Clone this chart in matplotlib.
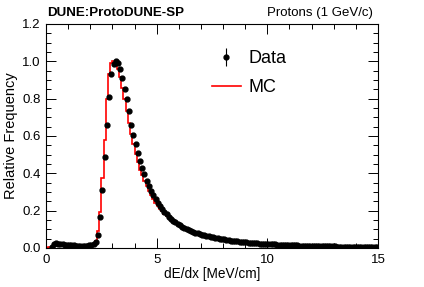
import numpy as np
import matplotlib
matplotlib.use("Agg")
import matplotlib.pyplot as plt
from matplotlib.ticker import MultipleLocator

plt.rcParams['font.family'] = ['Liberation Sans', 'DejaVu Sans']

# bin edges 0..15, width 0.1
bin_lo, bin_hi, bin_w = 0.0, 15.0, 0.1

data_vals = [
    0.000, 0.000, 0.004, 0.020, 0.025, 0.024, 0.022, 0.020, 0.018, 0.016,
    0.015, 0.014, 0.014, 0.013, 0.013, 0.013, 0.013, 0.013, 0.013, 0.014,
    0.016, 0.022, 0.034, 0.071, 0.168, 0.310, 0.486, 0.657, 0.807, 0.930,
    0.985, 1.000, 0.990, 0.960, 0.910, 0.853, 0.800, 0.734, 0.659, 0.605,
    0.555, 0.507, 0.465, 0.430, 0.395, 0.360, 0.332, 0.307, 0.284, 0.262,
    0.243, 0.225, 0.208, 0.193, 0.180, 0.168, 0.157, 0.147, 0.138, 0.130,
    0.122, 0.115, 0.109, 0.103, 0.097, 0.092, 0.087, 0.083, 0.079, 0.075,
    0.072, 0.069, 0.066, 0.063, 0.060, 0.057, 0.055, 0.052, 0.050, 0.048,
    0.046, 0.044, 0.042, 0.040, 0.038, 0.037, 0.035, 0.034, 0.032, 0.031,
    0.030, 0.029, 0.028, 0.027, 0.026, 0.025, 0.024, 0.023, 0.022, 0.022,
    0.021, 0.020, 0.020, 0.019, 0.018, 0.018, 0.017, 0.017, 0.016, 0.016,
    0.015, 0.015, 0.014, 0.014, 0.013, 0.013, 0.013, 0.012, 0.012, 0.012,
    0.011, 0.011, 0.011, 0.010, 0.010, 0.010, 0.010, 0.009, 0.009, 0.009,
    0.009, 0.008, 0.008, 0.008, 0.008, 0.008, 0.007, 0.007, 0.007, 0.007,
    0.007, 0.007, 0.006, 0.006, 0.006, 0.006, 0.006, 0.006, 0.005, 0.005,
]

mc_vals = [
    0.002, 0.005, 0.008, 0.015, 0.020, 0.020, 0.019, 0.018, 0.017, 0.016,
    0.015, 0.014, 0.014, 0.013, 0.013, 0.013, 0.013, 0.013, 0.013, 0.013,
    0.014, 0.020, 0.035, 0.090, 0.195, 0.373, 0.580, 0.800, 0.930, 0.990,
    1.000, 0.985, 0.960, 0.915, 0.855, 0.800, 0.735, 0.670, 0.610, 0.555,
    0.505, 0.460, 0.420, 0.390, 0.360, 0.330, 0.305, 0.282, 0.262, 0.243,
    0.226, 0.210, 0.196, 0.183, 0.171, 0.160, 0.150, 0.141, 0.133, 0.125,
    0.118, 0.112, 0.106, 0.100, 0.095, 0.090, 0.086, 0.082, 0.078, 0.074,
    0.071, 0.068, 0.065, 0.062, 0.059, 0.056, 0.054, 0.051, 0.049, 0.047,
    0.045, 0.043, 0.041, 0.039, 0.037, 0.036, 0.034, 0.033, 0.031, 0.030,
    0.029, 0.028, 0.027, 0.026, 0.025, 0.024, 0.023, 0.022, 0.021, 0.021,
    0.020, 0.019, 0.019, 0.018, 0.017, 0.017, 0.016, 0.016, 0.015, 0.015,
    0.014, 0.014, 0.013, 0.013, 0.012, 0.012, 0.012, 0.011, 0.011, 0.011,
    0.010, 0.010, 0.010, 0.009, 0.009, 0.009, 0.009, 0.008, 0.008, 0.008,
    0.008, 0.007, 0.007, 0.007, 0.007, 0.007, 0.006, 0.006, 0.006, 0.006,
    0.006, 0.006, 0.005, 0.005, 0.005, 0.005, 0.005, 0.005, 0.004, 0.004,
]

title_left = "DUNE:ProtoDUNE-SP"
title_right = "Protons (1 GeV/c)"
xlabel = "dE/dx [MeV/cm]"
ylabel = "Relative Frequency"

edges = np.arange(len(data_vals) + 1) * bin_w + bin_lo
centers = 0.5 * (edges[:-1] + edges[1:])
data = np.array(data_vals)
mc = np.array(mc_vals)

W, H = 424, 287
fig = plt.figure(figsize=(W / 100, H / 100), dpi=100)
ax = fig.add_axes([46 / W, 1 - 248 / H, (378 - 46) / W, (248 - 24) / H])

ax.stairs(mc, edges, color='red', lw=1.2, label='MC', zorder=2)
mask = data > 0
ax.errorbar(centers[mask], data[mask], yerr=np.sqrt(data[mask]) * 0.01,
            fmt='o', color='black', ms=3.5, lw=0.8, capsize=0, label='Data', zorder=3)

ax.set_xlim(bin_lo, bin_hi)
ax.set_ylim(0, 1.2)
ax.xaxis.set_major_locator(MultipleLocator(5))
ax.xaxis.set_minor_locator(MultipleLocator(1))
ax.yaxis.set_major_locator(MultipleLocator(0.2))
ax.yaxis.set_minor_locator(MultipleLocator(0.05))
ax.xaxis.set_major_formatter(matplotlib.ticker.FuncFormatter(lambda v, p: f"{v:g}"))
ax.yaxis.set_major_formatter(matplotlib.ticker.FormatStrFormatter('%.1f'))
ax.tick_params(which='both', direction='in', top=True, right=True, labelsize=9.5, width=0.7)
ax.tick_params(which='major', length=7, pad=4)
ax.tick_params(which='minor', length=3.5)
for s in ax.spines.values():
    s.set_linewidth(0.8)

ax.set_xlabel(xlabel, fontsize=9.8, labelpad=1)
ax.set_ylabel(ylabel, fontsize=10.5, labelpad=3)

fig.text(47 / W, 1 - 13 / H, title_left, fontsize=9.6, fontweight='bold', ha='left', va='center')
fig.text(373 / W, 1 - 13 / H, title_right, fontsize=9.5, ha='right', va='center')

handles, labels = ax.get_legend_handles_labels()
order = [labels.index('Data'), labels.index('MC')]
fig.legend([handles[i] for i in order], [labels[i] for i in order],
           loc='upper left', bbox_to_anchor=(212 / W, 1 - 50 / H),
           frameon=False, fontsize=13, handlelength=1.6, handletextpad=0.4,
           labelspacing=0.68, borderpad=0, borderaxespad=0)

fig.savefig("out.png", dpi=100)
